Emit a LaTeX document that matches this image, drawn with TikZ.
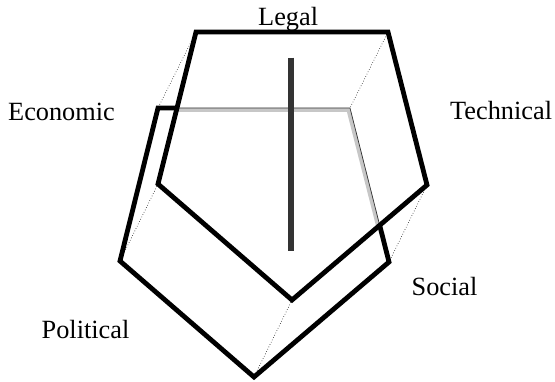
\documentclass[tikz,border=0pt]{standalone}
\usepackage{fontspec}
\setmainfont{Liberation Serif}
\usetikzlibrary{calc}
\tikzset{
  edge/.style={line width=4.8pt, line join=miter, black},
  hidden/.style={line width=4pt, color=black!22},
  hiddenline/.style={line width=0.7pt, color=black!80},
  link/.style={line width=0.6pt, dotted, black},
  bar/.style={line width=6pt, color=black!80},
  lbl/.style={inner sep=0pt, anchor=base west, font=\fontsize{26.3}{30}\selectfont}
}
\begin{document}
\begin{tikzpicture}[x=1pt,y=-1pt]
\useasboundingbox (0,0) rectangle (555,382);
% front pentagon
\coordinate (F1) at (196,32);
\coordinate (F2) at (388,32);
\coordinate (F3) at (427,185);
\coordinate (F4) at (292,300);
\coordinate (F5) at (158,184);
% back pentagon
\coordinate (B1) at (158,108);
\coordinate (B2) at (350,108);
\coordinate (B3) at (389,262);
\coordinate (B4) at (254,377);
\coordinate (B5) at (120,261);
% crossings
\coordinate (X1) at (177.5,108);
\coordinate (X2) at (379.7,225.3);
% dotted links
\draw[link] (F1) -- (B1);
\draw[link] (F2) -- (B2);
\draw[link] (F3) -- (B3);
\draw[link] (F4) -- (B4);
\draw[link] (F5) -- (B5);
% hidden edges of back pentagon
\draw[hidden] ($(X1)+(0,2)$) -- ($(B2)+(-1.5,2)$) -- ($(X2)+(-1.8,0)$);
\draw[hiddenline] (X1) -- (B2) -- (X2);
% visible edges of back pentagon
\draw[edge] (X2) -- (B3) -- (B4) -- (B5) -- (B1) -- (X1);
% front pentagon
\draw[edge] (F1) -- (F2) -- (F3) -- (F4) -- (F5) -- cycle;
% vertical bar
\coordinate (V1) at (290.7,57.7);
\coordinate (V2) at (290.7,250.7);
\draw[bar] (V1) -- (V2);
% labels
\node[lbl] (legal) at (258,26) {Legal};
\node[lbl] (econ) at (8,121) {Economic};
\node[lbl] (tech) at (450,120) {Technical};
\node[lbl] (social) at (411.5,296) {Social};
\node[lbl] (pol) at (41.5,338.5) {Political};
\end{tikzpicture}
\end{document}
